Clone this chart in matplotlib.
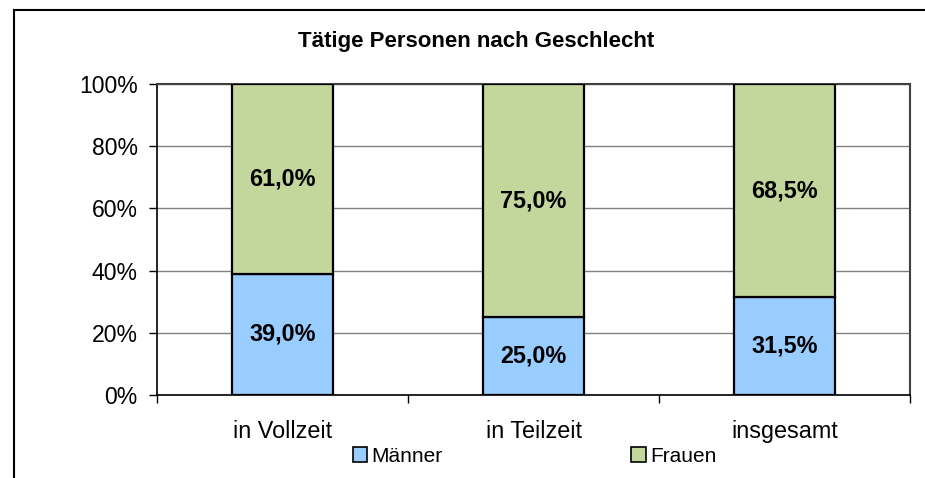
import matplotlib
matplotlib.use("Agg")
import matplotlib.pyplot as plt
from matplotlib.lines import Line2D
from matplotlib.patches import Patch
import numpy as np

categories = ["in Vollzeit", "in Teilzeit", "insgesamt"]
maenner = [39.0, 25.0, 31.5]
frauen = [61.0, 75.0, 68.5]
series_names = ["Männer", "Frauen"]
yticks = [0, 20, 40, 60, 80, 100]

plt.rcParams['font.family'] = ['Liberation Sans', 'DejaVu Sans']

W, H = 925, 478
fig = plt.figure(figsize=(W / 100, H / 100), dpi=100)
ax = fig.add_axes([157 / W, 1 - 395 / H, 753 / W, 311 / H])

x = np.arange(len(categories))
bw = 0.4
c_m = "#99CCFF"
c_f = "#C3D69B"
ax.bar(x, maenner, bw, color=c_m, edgecolor="black", linewidth=1.6, zorder=3)
ax.bar(x, frauen, bw, bottom=maenner, color=c_f, edgecolor="black", linewidth=1.6, zorder=3)

for xi, m, f in zip(x, maenner, frauen):
    ax.text(xi, m / 2, f"{m:.1f}%".replace(".", ","), ha="center", va="center",
            fontsize=16.8, fontweight="bold", zorder=4)
    ax.text(xi, m + f / 2, f"{f:.1f}%".replace(".", ","), ha="center", va="center",
            fontsize=16.8, fontweight="bold", zorder=4)

ax.set_xlim(-0.5, len(categories) - 0.5)
ax.set_ylim(0, 100)
ax.set_yticks(yticks)
ax.set_yticklabels([f"{t}%" for t in yticks], fontsize=16.6)
ax.tick_params(axis="y", length=6, width=1, pad=8.0, direction="out")
ax.yaxis.grid(True, color="#808080", linewidth=1, zorder=0)

ax.set_xticks(np.arange(-0.5, len(categories), 1.0))
ax.set_xticklabels([])
ax.tick_params(axis="x", which="major", length=6, width=1, direction="out")
ax.set_xticks(x, minor=True)
ax.set_xticklabels(categories, minor=True, fontsize=16.8)
ax.tick_params(axis="x", which="minor", length=0, pad=18)

for s in ["left", "bottom"]:
    ax.spines[s].set_color("black")
    ax.spines[s].set_linewidth(1.2)
for s in ["top", "right"]:
    ax.spines[s].set_color("#404040")
    ax.spines[s].set_linewidth(1.5)

fig.text(476 / W, 1 - 42 / H, "Tätige Personen nach Geschlecht", ha="center", va="center",
         fontsize=16, fontweight="bold")

# outer chart frame
fig.add_artist(Line2D([14 / W, 1.0], [1 - 10 / H, 1 - 10 / H], color="black", lw=1.5,
                      transform=fig.transFigure))
fig.add_artist(Line2D([14 / W, 14 / W], [0, 1 - 10 / H], color="black", lw=1.5,
                      transform=fig.transFigure))

handles = [Patch(facecolor=c_m, edgecolor="black", linewidth=1.2),
           Patch(facecolor=c_f, edgecolor="black", linewidth=1.2)]
fig.legend(handles, series_names, loc="center", bbox_to_anchor=(534.5 / W, 1 - 456 / H),
           ncol=2, frameon=False, fontsize=15, handlelength=0.7, handleheight=0.7,
           handletextpad=0.2, columnspacing=9.05)

fig.savefig("out.png", dpi=100)
